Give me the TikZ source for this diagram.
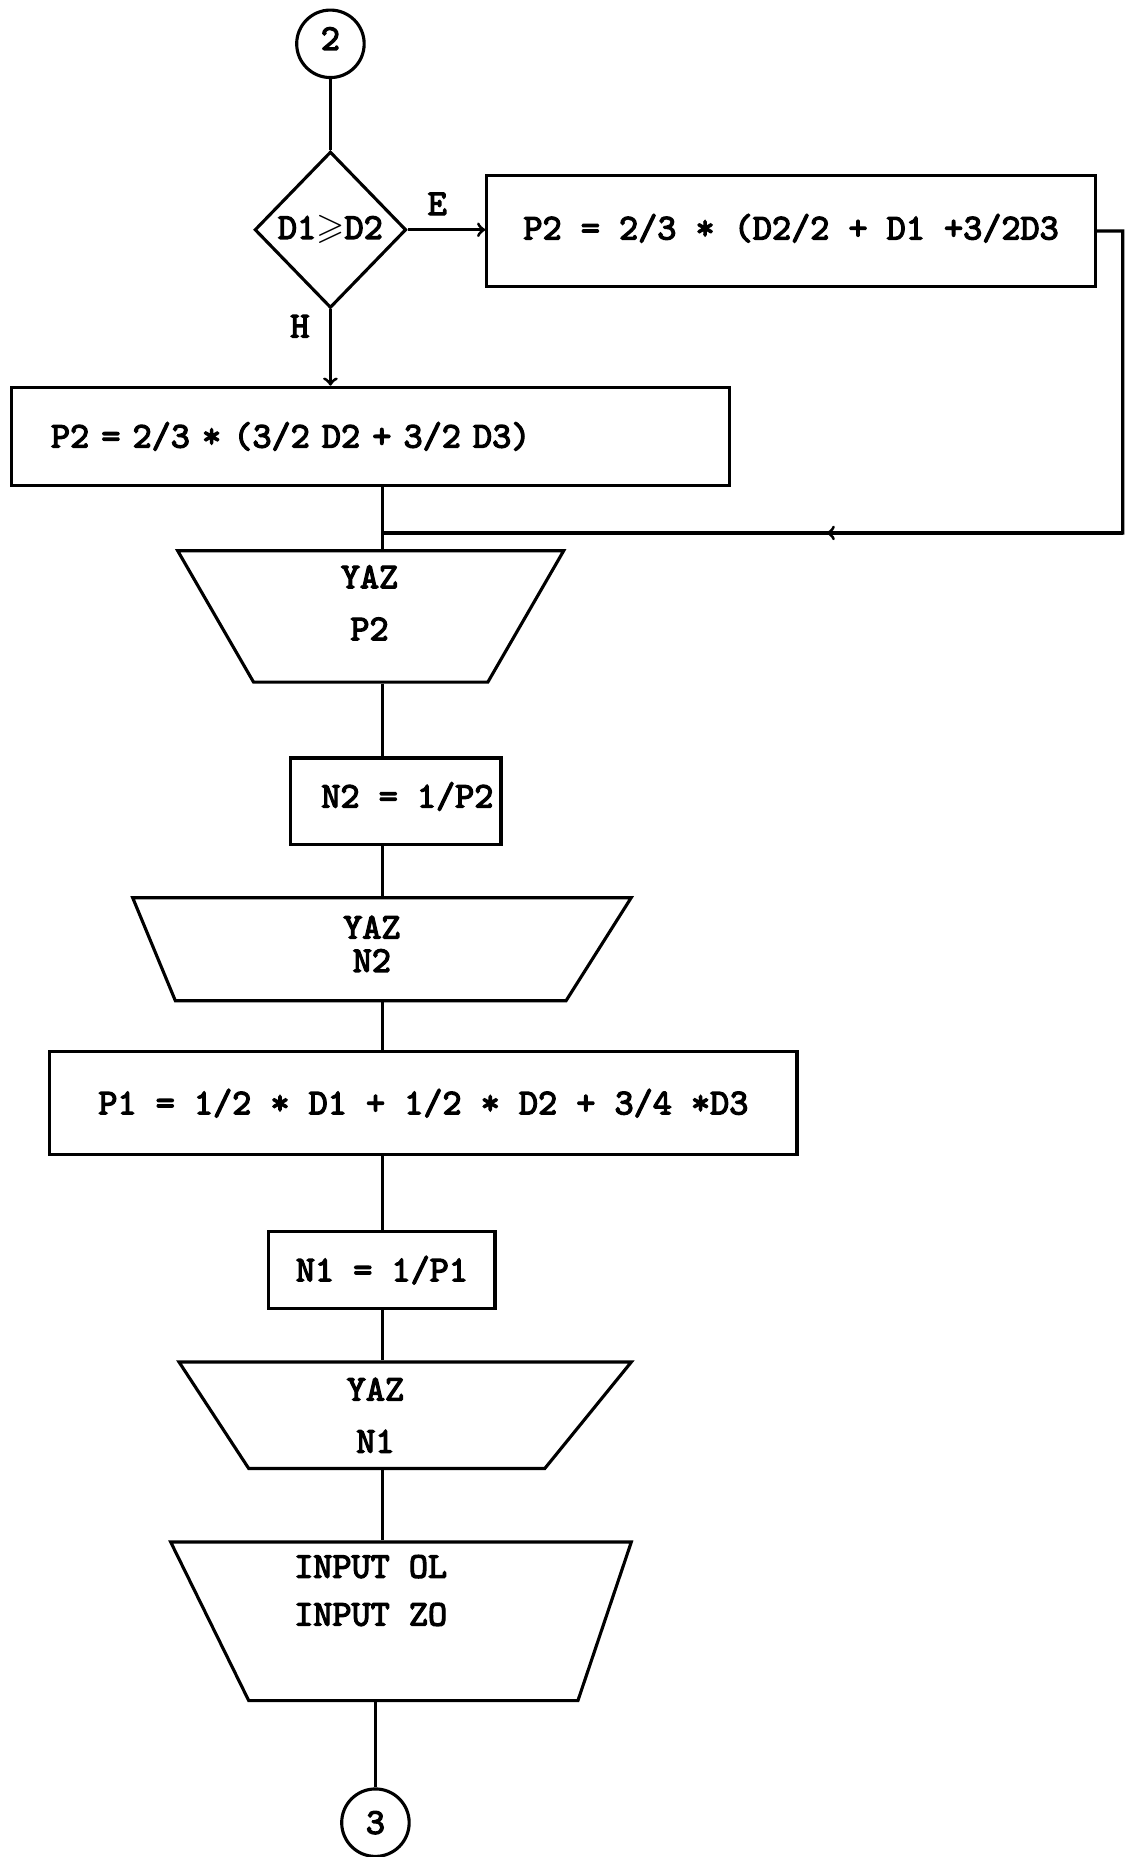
\documentclass[tikz,border=0pt]{standalone}
\usepackage{amssymb}
\usepackage{fontspec}
\setmonofont{lmmono10-regular}[Extension=.otf, AutoFakeBold=3.5]
\usetikzlibrary{shapes.geometric, calc, positioning}

\begin{document}
\begin{tikzpicture}[x=0.02cm, y=-0.02cm,
    every node/.style={font=\ttfamily\bfseries\fontsize{17.5}{23}\selectfont},
    flow/.style={line width=1.5pt},
    procbox/.style={draw, line width=1.5pt, inner sep=0pt, align=center},
    iobox/.style={draw, line width=1.5pt, trapezium, trapezium stretches body, inner sep=0pt},
    decision/.style={draw, diamond, line width=1.5pt, inner sep=0pt, aspect=1},
    connector/.style={draw, circle, line width=1.5pt, inner sep=0pt, minimum size=1.14cm},
    txt/.style={align=center}]
    \useasboundingbox (0,0) rectangle (958,1568);

    \path (279, 37)     node[connector] (c2) {\raisebox{5pt}{2}};
    \path (279, 194)    node[decision, minimum width=2.56cm, minimum height=2.64cm] (dia) {D1$\geqslant$D2};
    \path (668, 195)    node[procbox, minimum width=10.28cm, minimum height=1.88cm] (e) {\raisebox{4pt}{P2 = 2/3 * (D2/2 + D1 +3/2D3}};
    \path (313, 368.5)  node[procbox, minimum height=1.66cm, inner xsep=0.66cm, text width=10.8cm, align=left] (h) {P2 = 2/3 * (3/2 D2 + 3/2 D3)};

    \path (313, 520.5)  node[iobox, minimum width=6.52cm, trapezium left angle=120, trapezium right angle=120] (t1) {\rule{0pt}{2.22cm}};
    \path (312, 509)    node[txt] (t1txt) {YAZ\\[2pt]P2};

    \path (334, 676.5)  node[procbox, minimum width=3.56cm, minimum height=1.46cm] (n2) {\raisebox{6pt}{\hspace*{0.4cm}N2 = 1/P2}};

    \path (313, 801.5)  node[iobox, minimum width=8.42cm, trapezium left angle=112.5, trapezium right angle=122.3] (t2) {\rule{0pt}{1.74cm}};
    \path (314, 797)    node[txt] (t2txt) {YAZ\\[-7pt]N2};

    \path (357.5, 931.5) node[procbox, minimum width=12.62cm, minimum height=1.74cm] (p1) {P1 = 1/2 * D1 + 1/2 * D2 + 3/4 *D3};
    \path (322.5, 1072.5) node[procbox, minimum width=3.82cm, minimum height=1.3cm] (n1) {N1 = 1/P1};

    \path (335, 1195)   node[iobox, minimum width=7.64cm, trapezium left angle=123.2, trapezium right angle=129.1] (t3) {\rule{0pt}{1.8cm}};
    \path (317, 1195)   node[txt] (t3txt) {YAZ\\[2pt]N1};

    \path (349, 1369)   node[iobox, minimum width=7.78cm, trapezium left angle=116.2, trapezium right angle=108.6] (t4) {\rule{0pt}{2.68cm}};
    \path (313, 1343)   node[txt] (t4txt) {INPUT OL\\INPUT ZO};

    \path (317, 1539)   node[connector] (c3) {3};

    \coordinate (spine) at (323, 0);
    \coordinate (ret) at (948, 450);
    \coordinate (join) at (spine |- ret);

    \draw[flow] (c2) -- (dia);
    \draw[flow, ->] (dia.east) -- node[pos=0.38, above, yshift=3pt] (lblE) {E} (dia.east -| e.west);
    \draw[flow, ->] (dia.south) -- node[pos=0.22, left, xshift=-6pt] (lblH) {H} (dia.south |- h.north);

    \draw[flow, ->] (e.east) -| (ret) -- ($(ret)!0.4!(join)$);
    \draw[flow] (ret) -- (join);

    \draw[flow] (spine |- h.south)  -- (spine |- t1.north);
    \draw[flow] (spine |- t1.south) -- (spine |- n2.north);
    \draw[flow] (spine |- n2.south) -- (spine |- t2.north);
    \draw[flow] (spine |- t2.south) -- (spine |- p1.north);
    \draw[flow] (spine |- p1.south) -- (spine |- n1.north);
    \draw[flow] (spine |- n1.south) -- (spine |- t3.north);
    \draw[flow] (spine |- t3.south) -- (spine |- t4.north);
    \draw[flow] (c3 |- t4.south) -- (c3);
\end{tikzpicture}
\end{document}
